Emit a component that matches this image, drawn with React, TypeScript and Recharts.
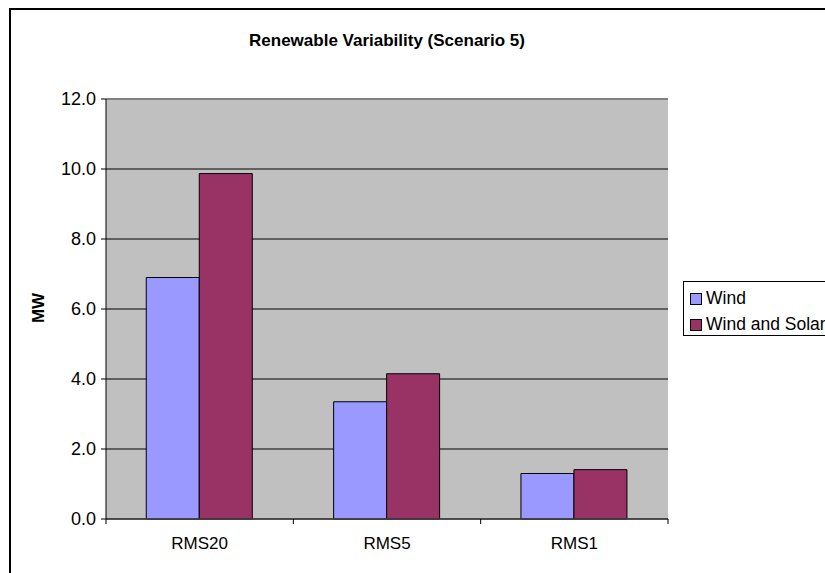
import {
  BarChart,
  Bar,
  XAxis,
  YAxis,
  CartesianGrid,
  ReferenceLine,
  Legend,
} from "recharts";

const categories = ["RMS20", "RMS5", "RMS1"];
const windValues = [6.9, 3.35, 1.3];
const windSolarValues = [9.87, 4.15, 1.41];
const yTicks = [0, 2, 4, 6, 8, 10, 12];

const data = categories.map((name, i) => ({
  name,
  wind: windValues[i],
  windSolar: windSolarValues[i],
}));

const FONT = "'Liberation Sans', Arial, sans-serif";

const legendItems = [
  { label: "Wind", color: "#9999FF" },
  { label: "Wind and Solar", color: "#993366" },
];

const LegendBox = () => (
  <div
    style={{
      border: "1px solid #000",
      background: "#fff",
      width: 160,
      height: 55,
      boxSizing: "border-box",
      paddingLeft: 6,
      paddingTop: 3,
      fontFamily: FONT,
      fontSize: 17.5,
      color: "#000",
      textAlign: "left",
    }}
  >
    {legendItems.map((it) => (
      <div
        key={it.label}
        style={{ display: "flex", alignItems: "center", height: 26, whiteSpace: "nowrap" }}
      >
        <span
          style={{
            display: "inline-block",
            width: 10,
            height: 10,
            background: it.color,
            border: "1px solid #000",
            marginRight: 4,
            marginTop: 2,
          }}
        />
        {it.label}
      </div>
    ))}
  </div>
);

// category label plus Excel-style tick marks on the category boundaries
const CategoryTick = (props: any) => {
  const { x, y, payload, index, width } = props;
  const band = (width || 562) / categories.length;
  const axisY = y - 18;
  const left = x - band / 2;
  const right = x + band / 2;
  return (
    <g>
      <line x1={left} y1={axisY} x2={left} y2={axisY + 5} stroke="#000" />
      {index === categories.length - 1 && (
        <line x1={right} y1={axisY} x2={right} y2={axisY + 5} stroke="#000" />
      )}
      <text
        x={x}
        y={y}
        dy="0.71em"
        textAnchor="middle"
        fill="#000"
        fontSize={17}
        fontFamily={FONT}
      >
        {payload.value}
      </text>
    </g>
  );
};

export default function App() {
  return (
    <div
      style={{
        position: "fixed",
        left: 0,
        top: 0,
        width: 825,
        height: 573,
        overflow: "hidden",
        background: "#fff",
      }}
    >
      <div
        style={{
          position: "absolute",
          left: 9,
          top: 8,
          width: 1000,
          height: 1000,
          border: "2px solid #000",
        }}
      />
      <div
        style={{
          position: "absolute",
          left: 0,
          width: 774,
          top: 31,
          textAlign: "center",
          fontFamily: FONT,
          fontWeight: "bold",
          fontSize: 17,
          color: "#000",
        }}
      >
        Renewable Variability (Scenario 5)
      </div>
      <div
        style={{
          position: "absolute",
          left: 39,
          top: 308,
          transform: "translate(-50%, -50%) rotate(-90deg)",
          fontFamily: FONT,
          fontWeight: "bold",
          fontSize: 17,
          color: "#000",
        }}
      >
        MW
      </div>
      <div style={{ position: "absolute", left: 0, top: 0 }}>
        <BarChart
          width={825}
          height={573}
          data={data}
          margin={{ top: 99, right: 157, bottom: 24, left: 46 }}
          barCategoryGap="21.5%"
          barGap={0}
        >
          <CartesianGrid
            vertical={false}
            stroke="#000"
            fill="#C0C0C0"
            fillOpacity={1}
          />
          <ReferenceLine y={12} stroke="#808080" strokeWidth={2} />
          <XAxis
            dataKey="name"
            height={30}
            axisLine={{ stroke: "#404040", strokeWidth: 1.5 }}
            tickLine={false}
            tickSize={6}
            tickMargin={12}
            tick={<CategoryTick />}
          />
          <YAxis
            domain={[0, 12]}
            ticks={yTicks}
            width={60}
            axisLine={{ stroke: "#000" }}
            tickLine={{ stroke: "#000" }}
            tickSize={5}
            tickMargin={5}
            tickFormatter={(v: number) => v.toFixed(1)}
            tick={{ fill: "#000", fontSize: 18, fontFamily: FONT }}
          />
          <YAxis
            yAxisId="right"
            orientation="right"
            domain={[0, 12]}
            width={0}
            tick={false}
            tickLine={false}
            axisLine={{ stroke: "#808080", strokeWidth: 2 }}
          />
          <Legend
            layout="vertical"
            align="center"
            verticalAlign="middle"
            wrapperStyle={{ left: 683, top: 281, width: 160 }}
            content={() => <LegendBox />}
          />
          <Bar
            dataKey="wind"
            name="Wind"
            fill="#9999FF"
            stroke="#000"
            strokeWidth={1}
            isAnimationActive={false}
          />
          <Bar
            dataKey="windSolar"
            name="Wind and Solar"
            fill="#993366"
            stroke="#000"
            strokeWidth={1}
            isAnimationActive={false}
          />
        </BarChart>
      </div>
    </div>
  );
}
